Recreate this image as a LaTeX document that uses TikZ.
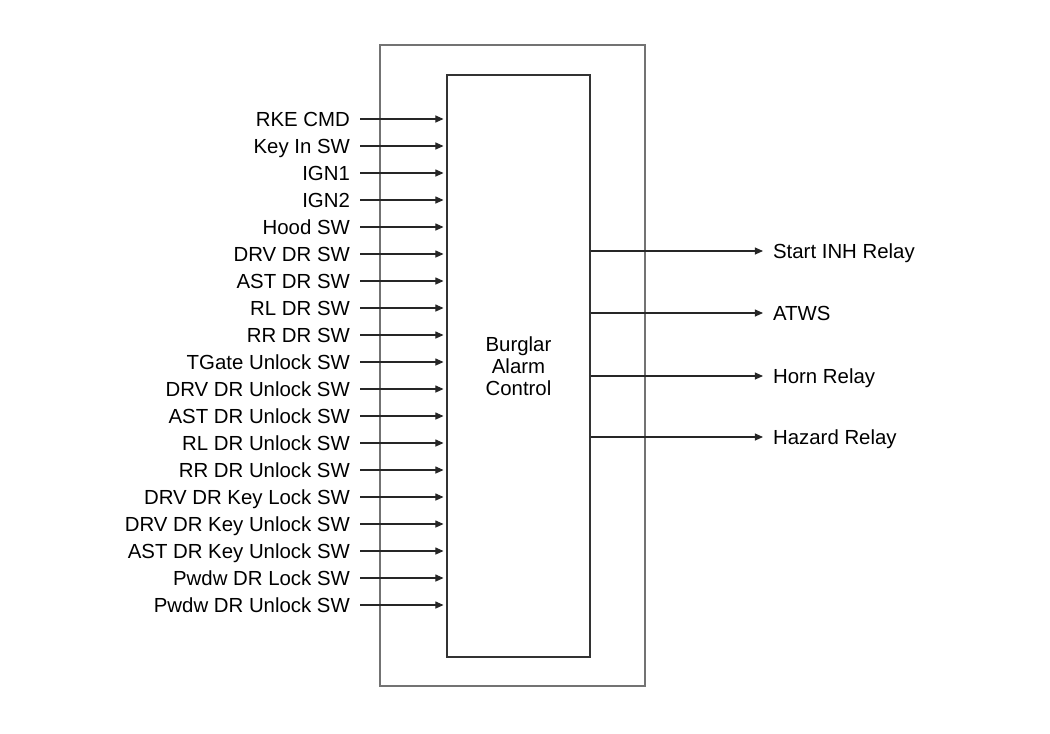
\documentclass[tikz,border=0pt]{standalone}
\usepackage{fontspec}
\setmainfont{Liberation Sans}
\usetikzlibrary{arrows.meta, positioning}

\begin{document}
\begin{tikzpicture}[
    x=0.025cm,
    y=-0.025cm,
    moldura/.style={
        draw=black!55,
        line width=1.2pt,
        inner sep=0pt,
        minimum width=6.625cm,
        minimum height=16.025cm
    },
    controle/.style={
        draw=black!80,
        line width=0.9pt,
        inner sep=0pt,
        align=center,
        minimum width=3.575cm,
        minimum height=14.55cm,
        font=\fontsize{14.5}{15.5}\selectfont
    },
    entrada/.style={
        anchor=east,
        inner xsep=7pt,
        inner ysep=0pt,
        text height=10.4pt,
        text depth=0pt,
        font=\fontsize{14.5}{16}\selectfont
    },
    saida/.style={
        anchor=west,
        inner xsep=7pt,
        inner ysep=0pt,
        text height=10.4pt,
        text depth=0pt,
        font=\fontsize{14.5}{16}\selectfont
    },
    seta/.style={
        -{Triangle[length=5.8pt,width=5pt]},
        line width=0.8pt,
        black!85
    }
]
\useasboundingbox (0,0) rectangle (1050,733);

\node[moldura] (caixa) at (512.5,365.5) {};
\node[controle] (ctrl) at (518.5,366)
{Burglar\\
Alarm\\
Control};

% entradas
\foreach \rotulo [count=\i] in {RKE CMD, Key In SW, IGN1, IGN2, Hood SW,
    DRV DR SW, AST DR SW, RL DR SW, RR DR SW, TGate Unlock SW,
    DRV DR Unlock SW, AST DR Unlock SW, RL DR Unlock SW, RR DR Unlock SW,
    DRV DR Key Lock SW, DRV DR Key Unlock SW, AST DR Key Unlock SW,
    Pwdw DR Lock SW, Pwdw DR Unlock SW}
{
    \node[entrada] (in\i) at (360,{119+27*(\i-1)}) {\rotulo};
    \draw[seta, shorten >=2pt] (in\i.east) -- (in\i.east -| ctrl.west);
}

% saidas
\node[saida] (start) at (763,251) {Start INH Relay};
\node[saida] (atws) at (763,313) {ATWS};
\node[saida] (horn) at (763,376) {Horn Relay};
\node[saida] (hazard) at (763,437) {Hazard Relay};

\draw[seta] (ctrl.east |- start) -- (start.west);
\draw[seta] (ctrl.east |- atws) -- (atws.west);
\draw[seta] (ctrl.east |- horn) -- (horn.west);
\draw[seta] (ctrl.east |- hazard) -- (hazard.west);

\end{tikzpicture}
\end{document}
